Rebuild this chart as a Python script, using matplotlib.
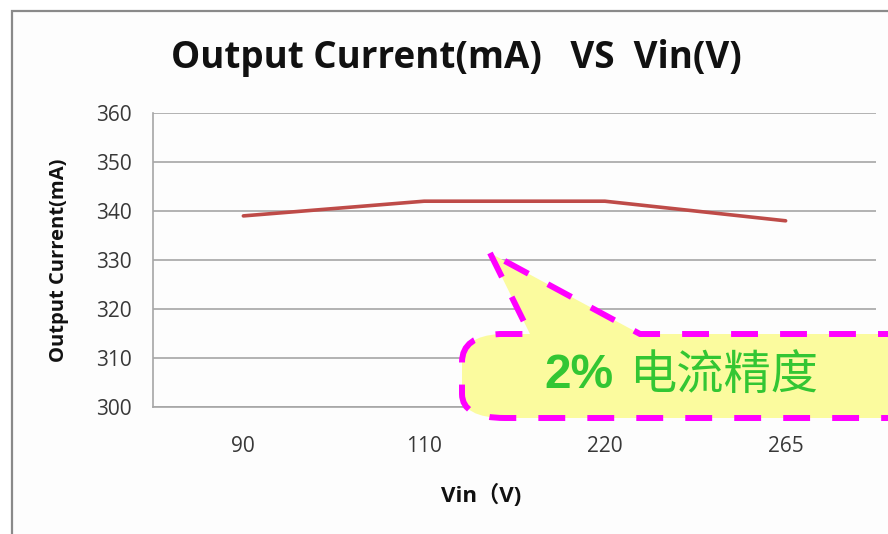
import matplotlib
matplotlib.use("Agg")
import matplotlib.pyplot as plt
from matplotlib.path import Path
from matplotlib.patches import PathPatch, Rectangle

categories = ["90", "110", "220", "265"]
current_ma = [339, 342, 342, 338]
y_ticks = [300, 310, 320, 330, 340, 350, 360]
title = "Output Current(mA)   VS  Vin(V)"
callout_num = "2%"
callout_cjk = "电流精度"

W, H = 888, 534
fig = plt.figure(figsize=(W / 100, H / 100), dpi=100)
fig.patch.set_facecolor("white")

def fx(x):
    return x / W

def fy(y):
    return 1 - y / H

# outer frame (chart area border)
fig.add_artist(Rectangle((fx(12), fy(560)), fx(900), fy(11) - fy(560),
                         transform=fig.transFigure, facecolor="#fdfdfd",
                         edgecolor="#8a8a8a", lw=1.6, zorder=0))

ax = fig.add_axes([fx(153), fy(407), fx(876) - fx(153), fy(113) - fy(407)])
ax.set_facecolor("none")
x = list(range(len(categories)))
ax.plot(x, current_ma, color="#be4b48", lw=2.6, solid_capstyle="round", zorder=3)
ax.set_xlim(-0.5, len(categories) - 0.5)
ax.set_ylim(300, 360)
ax.set_yticks(y_ticks)
ax.set_xticks(x)
ax.set_xticklabels(categories)
ax.yaxis.grid(True, color="#a6a6a6", lw=1.2)
ax.set_axisbelow(True)
for s in ["top", "right"]:
    ax.spines[s].set_visible(False)
for s in ["left", "bottom"]:
    ax.spines[s].set_color("#a6a6a6")
    ax.spines[s].set_linewidth(1.2)
ax.tick_params(length=0, labelsize=15, labelcolor="#383838")
ax.tick_params(axis="y", pad=15)
ax.tick_params(axis="x", pad=21)
for lab in ax.get_xticklabels() + ax.get_yticklabels():
    lab.set_family("Open Sans")

ax.set_ylabel("Output Current(mA)", family="Open Sans", fontweight="bold",
              fontsize=14.5, color="#111111")
ax.yaxis.set_label_coords((69 - 153) / 723, 0.5)
ax.set_xlabel("Vin（V)", family=["Open Sans", "Noto Sans CJK SC"], fontweight="bold",
              fontsize=16, color="#111111")
ax.xaxis.set_label_coords((481 - 153) / 723, (407 - 495) / 294)
ax.xaxis.label.set_va("center")

fig.text(fx(456), fy(58), title, ha="center", va="center", family="Open Sans",
         fontweight="bold", fontsize=26.5, color="#111111")

# callout shape in pixel coordinates (top-left origin)
pts = [
    (490, 253), (530, 334), (500, 334),
    (462, 336), (462, 362),
    (462, 394),
    (462, 418), (505, 418),
    (900, 418), (900, 334), (640, 334), (490, 253),
]
codes = [Path.MOVETO, Path.LINETO, Path.LINETO,
         Path.CURVE3, Path.CURVE3,
         Path.LINETO,
         Path.CURVE3, Path.CURVE3,
         Path.LINETO, Path.LINETO, Path.LINETO, Path.CLOSEPOLY]
path = Path([(fx(a), fy(b)) for a, b in pts], codes)
fig.add_artist(PathPatch(path, transform=fig.transFigure, facecolor="#fbfb9e",
                         edgecolor="#ff00ff", lw=4.3, linestyle=(0, (4.5, 3.7)),
                         zorder=5))

t1 = fig.text(fx(544), fy(376), callout_num, ha="left", va="center",
              family="Liberation Sans", fontweight="bold", fontsize=34.5,
              color="#33c633", zorder=6)
fig.canvas.draw()
bb = t1.get_window_extent()
fig.text(bb.x1 / W + fx(16), fy(376), callout_cjk, ha="left", va="center",
         family=["Noto Sans CJK SC", "DejaVu Sans"], fontsize=34,
         color="#33c633", zorder=6)

fig.savefig("out.png", dpi=100)
